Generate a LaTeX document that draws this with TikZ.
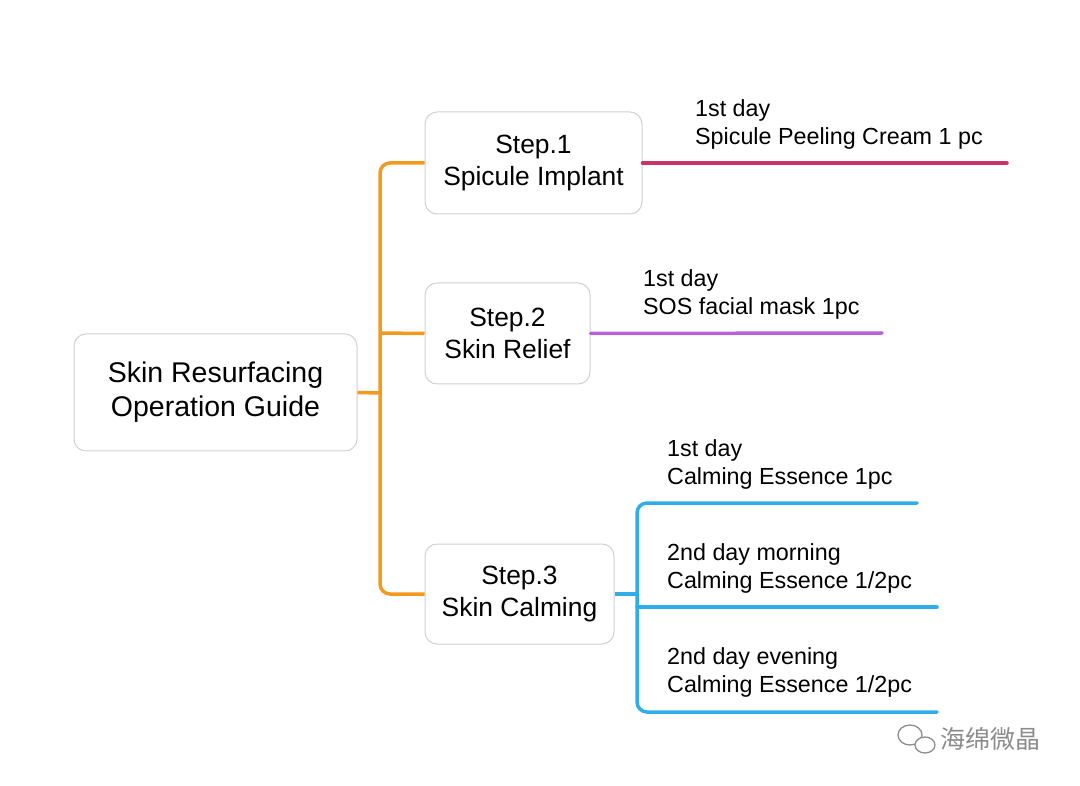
\documentclass[tikz,border=0pt]{standalone}
\usepackage{fontspec}
\setmainfont{Liberation Sans}
\newfontfamily\cjk{Noto Sans CJK SC}
\begin{document}
\begin{tikzpicture}[x=1pt,y=-1pt,
  box/.style={draw=black!18,line width=1pt,rounded corners=12pt,fill=white,align=center,inner sep=0pt},
  lbl/.style={anchor=west,align=left,font=\fontsize{23.3}{28}\selectfont,inner sep=0pt},
  ln/.style={line width=3.5pt,line cap=round,rounded corners=10pt}]
\definecolor{org}{HTML}{F29A1E}
\definecolor{mag}{HTML}{C93368}
\definecolor{pur}{HTML}{B862D9}
\definecolor{blu}{HTML}{2FADE8}
\useasboundingbox (0,0) rectangle (1080,786);
\node[box,minimum width=283pt,minimum height=117pt,font=\fontsize{28.5}{34}\selectfont] (root) at (215.5,392.5) {Skin Resurfacing\\Operation Guide};
\node[box,minimum width=217pt,minimum height=102pt,font=\fontsize{26.4}{32}\selectfont] (s1) at (533.5,163) {Step.1\\Spicule Implant};
\node[box,minimum width=165pt,minimum height=101pt,font=\fontsize{26.4}{32}\selectfont] (s2) at (507.5,333.5) {Step.2\\Skin Relief};
\node[box,minimum width=189pt,minimum height=100pt,font=\fontsize{26.4}{32}\selectfont] (s3) at (519.5,594) {Step.3\\Skin Calming};
\coordinate (oj) at (380,393);
\draw[ln,org,line cap=butt] (root.east) -- (oj);
\draw[ln,org,line cap=butt] (s1.west) -- (380,163) -- (380,594) -- (s3.west);
\draw[ln,org,line cap=butt] (380,333) -- (s2.west);
\coordinate (e1) at (1007,163);
\coordinate (e2) at (882,333);
\draw[ln,mag] (s1.east) -- (e1);
\draw[ln,pur] (s2.east) -- (e2);
\node[lbl] (t1) at (695,124) {1st day\\Spicule Peeling Cream 1 pc};
\node[lbl] (t2) at (643,294) {1st day\\SOS facial mask 1pc};
\coordinate (b1) at (917,503);
\coordinate (b2) at (937,607);
\coordinate (b3) at (937,712);
\draw[ln,blu,line cap=butt] (s3.east) -- (637,594);
\draw[ln,blu] (b1) -- (637,503) -- (637,712) -- (b3);
\draw[ln,blu] (637,607) -- (b2);
\node[lbl] (t3) at (667,464) {1st day\\Calming Essence 1pc};
\node[lbl] (t4) at (667,568) {2nd day morning\\Calming Essence 1/2pc};
\node[lbl] (t5) at (667,672) {2nd day evening\\Calming Essence 1/2pc};
\node[anchor=west,inner sep=0pt,text=black!45,font=\cjk\fontsize{25}{28}\selectfont] (wm) at (940,739) {海绵微晶};
\draw[black!45,line width=1.3pt] (910,735) ellipse (12pt and 10pt);
\draw[black!45,line width=1.3pt,fill=white] (925,745) ellipse (10pt and 8pt);
\end{tikzpicture}
\end{document}
